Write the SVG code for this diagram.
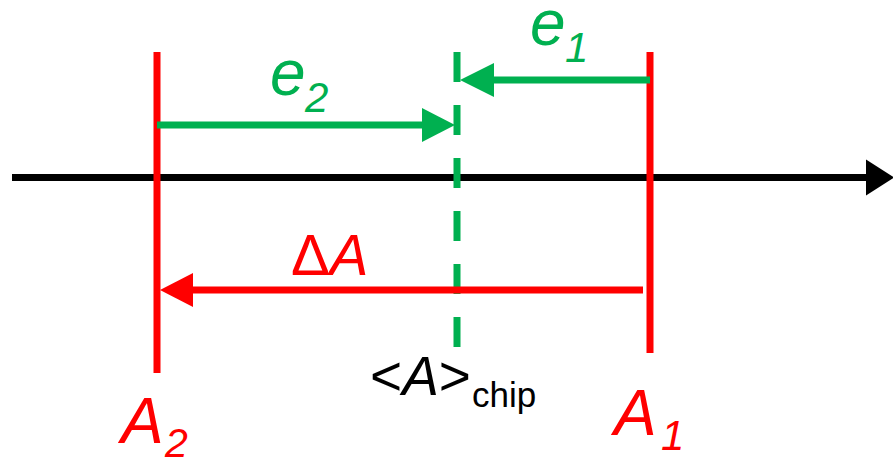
<svg xmlns="http://www.w3.org/2000/svg" width="893" height="460" viewBox="0 0 893 460">
<style>
.red{stroke:#FF0000;stroke-width:7;fill:none}
.grn{stroke:#00B050;stroke-width:7;fill:none}
.blk{stroke:#000;stroke-width:7;fill:none}
text{font-family:"Liberation Sans",Arial,sans-serif}
.it{font-style:italic}
</style>
<g id="axis">
<line class="blk" x1="12" y1="177.5" x2="866" y2="177.5"/>
<path d="M866,159.5 L894,177.5 L866,195.5 Z" fill="#000"/>
</g>
<g id="A2-line"><line class="red" x1="157" y1="52" x2="157" y2="373"/></g>
<g id="A1-line"><line class="red" x1="650" y1="52" x2="650" y2="353"/></g>
<g id="chip-line"><line class="grn" x1="457" y1="52" x2="457" y2="347" stroke-dasharray="30 23"/></g>
<g id="connectors">
<line class="grn" x1="650" y1="80" x2="494" y2="80"/>
<path d="M494,63 L460,80 L494,97 Z" fill="#00B050"/>
<line class="grn" x1="157" y1="125" x2="422" y2="125"/>
<path d="M422,108 L455,125 L422,142 Z" fill="#00B050"/>
<line class="red" x1="643" y1="290" x2="192" y2="290"/>
<path d="M193,273 L160,290 L193,307 Z" fill="#FF0000"/>
</g>
<g id="labels">
<text x="530" y="45" font-size="64" fill="#00B050" class="it">e</text>
<text x="565" y="62" font-size="42" fill="#00B050" class="it">1</text>
<text x="270" y="95" font-size="64" fill="#00B050" class="it">e</text>
<text x="305" y="112" font-size="42" fill="#00B050" class="it">2</text>
<text y="275" font-size="58" fill="#FF0000"><tspan x="291">Δ</tspan><tspan class="it">A</tspan></text>
<text y="395" font-size="55" fill="#000" x="370">&lt;<tspan class="it">A</tspan>&gt;</text>
<text x="472" y="407" font-size="35" fill="#000">chip</text>
<text x="121" y="443" font-size="64" fill="#FF0000" class="it">A</text>
<text x="165" y="457" font-size="41" fill="#FF0000" class="it">2</text>
<text x="614" y="435" font-size="64" fill="#FF0000" class="it">A</text>
<text x="661" y="450" font-size="42" fill="#FF0000" class="it">1</text>
</g>
</svg>
